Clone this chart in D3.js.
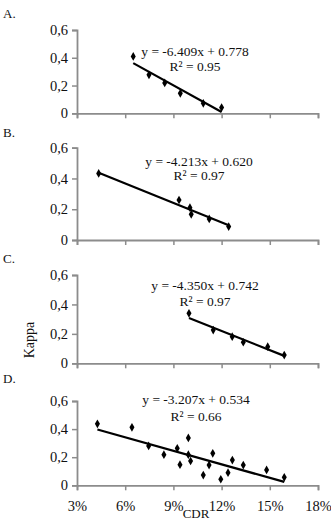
<!DOCTYPE html>
<html><head><meta charset="utf-8">
<script src="https://cdn.jsdelivr.net/npm/d3@7"></script>
<style>body{margin:0;background:#fff}svg{display:block}</style>
</head><body>
<script>
const panelLabels = ["A.", "B.", "C.", "D."];
const equations = ["y = -6.409x + 0.778", "y = -4.213x + 0.620", "y = -4.350x + 0.742", "y = -3.207x + 0.534"];
const r2Labels = ["R² = 0.95", "R² = 0.97", "R² = 0.97", "R² = 0.66"];
const slopes = [-6.409, -4.213, -4.350, -3.207];
const intercepts = [0.778, 0.620, 0.742, 0.534];
const xTicks = [0.03, 0.06, 0.09, 0.12, 0.15, 0.18];
const yTicks = [0, 0.2, 0.4, 0.6];
const cdrA = [0.065, 0.0748, 0.0846, 0.0943, 0.1086, 0.12];
const kappaA = [0.41, 0.277, 0.219, 0.144, 0.072, 0.041];
const cdrB = [0.0435, 0.0935, 0.1003, 0.1011, 0.1123, 0.1244];
const kappaB = [0.433, 0.26, 0.21, 0.167, 0.137, 0.087];
const cdrC = [0.0997, 0.1148, 0.1266, 0.1335, 0.1487, 0.159];
const kappaC = [0.34, 0.226, 0.181, 0.143, 0.113, 0.056];
const cdrD = [0.0427, 0.0642, 0.0746, 0.0841, 0.0924, 0.0941, 0.0993, 0.0993, 0.1007, 0.1086, 0.1122, 0.1145, 0.1195, 0.124, 0.1267, 0.1335, 0.148, 0.159];
const kappaD = [0.438, 0.413, 0.28, 0.218, 0.263, 0.147, 0.337, 0.218, 0.173, 0.073, 0.144, 0.228, 0.043, 0.09, 0.18, 0.144, 0.109, 0.057];

const cdrs = [cdrA, cdrB, cdrC, cdrD];
const kappas = [kappaA, kappaB, kappaC, kappaD];

const W = 331, H = 522;
const svg = d3.select("body").append("svg").attr("width", W).attr("height", H);
const font = "Liberation Serif";

const layout = [
  {y0: 113.3, y6: 30, lab: 18, eq: [195, 56], r2: [195, 71]},
  {y0: 240, y6: 147.7, lab: 137, eq: [199, 165.5], r2: [199, 180]},
  {y0: 363.3, y6: 275, lab: 263, eq: [205, 290], r2: [205, 305.5]},
  {y0: 485.3, y6: 401, lab: 383, eq: [196, 404], r2: [196, 420.5]}
];

const x = d3.scaleLinear().domain([0.03, 0.18]).range([77, 318]);

layout.forEach((L, i) => {
  const y = d3.scaleLinear().domain([0, 0.6]).range([L.y0, L.y6]);
  const g = svg.append("g");

  g.append("text").attr("x", 3).attr("y", L.lab).text(panelLabels[i])
    .attr("font-family", font).attr("font-size", 13).attr("fill", "#111");

  const xa = g.append("g").attr("transform", `translate(0,${L.y0})`)
    .call(d3.axisBottom(x).tickValues(xTicks).tickSize(5)
      .tickFormat(i === 3 ? (d => Math.round(d * 100) + "%") : ""));
  const ya = g.append("g").attr("transform", `translate(77,0)`)
    .call(d3.axisLeft(y).tickValues(yTicks).tickSize(5)
      .tickFormat(d => d === 0 ? "0" : d3.format(".1f")(d).replace(".", ",")));
  [xa, ya].forEach(a => {
    a.select(".domain").attr("stroke", "#8c8c8c").attr("stroke-width", 1.8);
    a.selectAll(".tick line").attr("stroke", "#8c8c8c").attr("stroke-width", 1.5);
    a.selectAll("text").attr("font-family", font).attr("font-size", 14.5).attr("fill", "#111");
  });
  ya.selectAll("text").attr("x", -9);
  xa.selectAll("text").attr("y", 15);

  const xs = cdrs[i];
  const x1 = d3.min(xs), x2 = d3.max(xs);
  g.append("line")
    .attr("x1", x(x1)).attr("y1", y(slopes[i] * x1 + intercepts[i]))
    .attr("x2", x(x2)).attr("y2", y(slopes[i] * x2 + intercepts[i]))
    .attr("stroke", "#000").attr("stroke-width", 2.2);

  const sym = d3.symbol().type(d3.symbolDiamond).size(22);
  g.selectAll("path.pt").data(xs.map((v, j) => [v, kappas[i][j]])).enter()
    .append("path").attr("class", "pt").attr("d", sym)
    .attr("transform", d => `translate(${x(d[0])},${y(d[1])})`).attr("fill", "#000");

  g.append("text").attr("x", L.eq[0]).attr("y", L.eq[1]).attr("text-anchor", "middle")
    .attr("font-family", font).attr("font-size", 13.5).attr("fill", "#111").text(equations[i]);
  g.append("text").attr("x", L.r2[0]).attr("y", L.r2[1]).attr("text-anchor", "middle")
    .attr("font-family", font).attr("font-size", 13.5).attr("fill", "#111").text(r2Labels[i]);
});

svg.append("text").attr("transform", "translate(34,340) rotate(-90)").attr("text-anchor", "middle")
  .attr("font-family", font).attr("font-size", 14).attr("fill", "#111").text("Kappa");
svg.append("text").attr("x", 196).attr("y", 518).attr("text-anchor", "middle")
  .attr("font-family", font).attr("font-size", 13).attr("fill", "#111").text("CDR");
</script>
</body></html>
